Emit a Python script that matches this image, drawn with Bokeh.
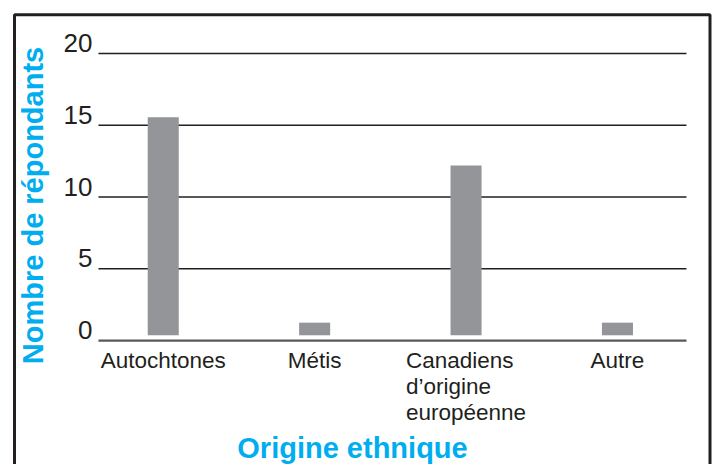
from math import pi

from bokeh.core.properties import value
from bokeh.embed import file_html
from bokeh.models import (ColumnDataSource, Label, LabelSet, PolyAnnotation, Range1d)
from bokeh.plotting import figure
from bokeh.resources import INLINE

# Survey respondents by ethnic origin
categories = ["Autochtones", "Métis", "Canadiens\nd’origine\neuropéenne", "Autre"]
respondents = [15.55, 1.25, 12.2, 1.25]
bar_floor = 0.37

y_ticks = [0, 5, 10, 15, 20]
y_tick_labels = ["0", "5", "10", "15", "20"]

x_title = "Origine ethnique"
y_title = "Nombre de répondants"

# Canvas geometry: the data frame fills the whole canvas, the chart area
# (gridlines) runs from x=-0.428 to 3.456 in category units.
W, H = 713, 464
X0_PX, X_UNIT_PX = 162.75, 151.4     # pixel of category 0, pixels per category
Y0_PX, Y_UNIT_PX = 340.1, 14.36      # pixel of value 0, pixels per respondent
AREA_L, AREA_R = -0.428, 3.456


def sx_to_x(px):
    return (px - X0_PX) / X_UNIT_PX


def sy_to_y(py):
    return (Y0_PX - py) / Y_UNIT_PX


INK = "#231f20"
CYAN = "#00aeef"
BAR = "#939598"
FONT = "Liberation Sans"

p = figure(
    width=W, height=H,
    x_range=Range1d(sx_to_x(0), sx_to_x(W)), y_range=Range1d(sy_to_y(H), sy_to_y(0)),
    x_axis_location=None, y_axis_location=None,
    toolbar_location=None, output_backend="svg",
    min_border=0, outline_line_color=None,
    background_fill_color="white", border_fill_color="white",
)
p.grid.visible = False

# horizontal gridlines and baseline
grid_y = y_ticks[1:]
p.segment(x0=[AREA_L] * len(grid_y), x1=[AREA_R] * len(grid_y), y0=grid_y, y1=grid_y,
          line_color=INK, line_width=1.5)
p.segment(x0=[AREA_L], x1=[AREA_R], y0=[y_ticks[0]], y1=[y_ticks[0]],
          line_color="#58595b", line_width=2.2)

x_pos = list(range(len(categories)))
bars = ColumnDataSource(dict(x=x_pos, top=respondents, bottom=[bar_floor] * len(x_pos)))
p.vbar(x="x", top="top", bottom="bottom", width=0.205, source=bars,
       fill_color=BAR, line_color=None)

# y tick labels sitting on their gridlines
ytick_src = ColumnDataSource(dict(x=[AREA_L] * len(y_ticks), y=y_ticks, text=y_tick_labels))
p.add_layout(LabelSet(x="x", y="y", text="text", source=ytick_src,
                      x_offset=-6, y_offset=1.5, text_align="right", text_baseline="alphabetic",
                      text_font=value(FONT), text_font_size="26px", text_color=INK))

# category labels under the baseline
cat_src = ColumnDataSource(dict(x=x_pos, y=[0] * len(x_pos), text=categories))
p.add_layout(LabelSet(x="x", y="y", text="text", source=cat_src,
                      y_offset=-7, text_align="center", text_baseline="top",
                      text_line_height=1.05,
                      text_font=value(FONT), text_font_size="22.5px", text_color=INK))

# axis titles
p.add_layout(Label(x=sx_to_x(352), y=0, y_offset=-107, text=x_title,
                   text_align="center", text_baseline="alphabetic",
                   text_font=FONT, text_font_style="bold",
                   text_font_size="29px", text_color=CYAN))
p.add_layout(Label(x=sx_to_x(32), y=sy_to_y(205), text=y_title,
                   angle=pi / 2, text_align="center", text_baseline="alphabetic",
                   text_font=FONT, text_font_style="bold",
                   text_font_size="29px", text_color=CYAN))

# outer frame
bx = [sx_to_x(14), sx_to_x(709.5), sx_to_x(709.5), sx_to_x(14)]
by = [sy_to_y(14.3), sy_to_y(14.3), sy_to_y(490), sy_to_y(490)]
p.add_layout(PolyAnnotation(xs=bx, ys=by, fill_color=None, fill_alpha=0,
                            line_color=INK, line_alpha=1, line_width=3))

open("out.html", "w").write(file_html(p, INLINE))
